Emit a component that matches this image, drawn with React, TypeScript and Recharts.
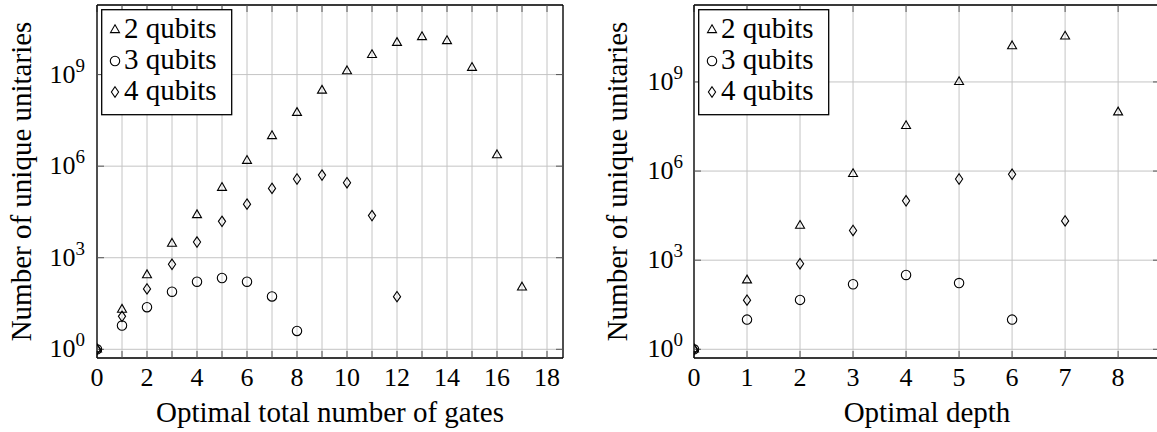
import React from 'react';
import { ScatterChart, Scatter, XAxis, YAxis, CartesianGrid, Label } from 'recharts';

const FONT = 'Liberation Serif';

// left panel: optimal total number of gates
const gateCounts = [0, 1, 2, 3, 4, 5, 6, 7, 8, 9, 10, 11, 12, 13, 14, 15, 16, 17];
const gates2q = [1, 20, 270, 2900, 25000, 196000, 1.5e6, 9.7e6, 5.6e7, 3e8, 1.3e9, 4.4e9, 1.1e10, 1.7e10, 1.26e10, 1.67e9, 2.3e6, 107];
const gates3q = [1, 6, 24, 77, 164, 217, 164, 54, 4];
const gates4q = [1, 12, 95, 610, 3270, 15600, 57000, 187000, 380000, 510000, 287000, 24000, 53];
const gateTicks = [0, 1, 2, 3, 4, 5, 6, 7, 8, 9, 10, 11, 12, 13, 14, 15, 16, 17, 18];

// right panel: optimal depth
const depths = [0, 1, 2, 3, 4, 5, 6, 7, 8];
const depth2q = [1, 210, 14500, 8e5, 3.3e7, 1e9, 1.6e10, 3.4e10, 9.5e7];
const depth3q = [1, 10, 46, 155, 318, 170, 10];
const depth4q = [1, 45, 760, 10000, 1e5, 5.4e5, 7.8e5, 21000];
const depthTicks = [0, 1, 2, 3, 4, 5, 6, 7, 8];

const yTicks = [1, 1e3, 1e6, 1e9];
const seriesNames = ['2 qubits', '3 qubits', '4 qubits'];

const toPoints = (xs: number[], ys: number[]) => ys.map((y, i) => ({ x: xs[i], y }));

const textStyle = { fontFamily: FONT };

const Triangle = ({ cx, cy }: any) => (
  <path
    d={`M${cx},${cy - 5.2}L${cx + 4.5},${cy + 2.6}L${cx - 4.5},${cy + 2.6}Z`}
    fill="none"
    stroke="#000"
    strokeWidth={1.1}
  />
);

const Circle = ({ cx, cy }: any) => (
  <circle cx={cx} cy={cy} r={4.7} fill="none" stroke="#000" strokeWidth={1.1} />
);

const Diamond = ({ cx, cy }: any) => (
  <path
    d={`M${cx},${cy - 5.2}L${cx + 3.6},${cy}L${cx},${cy + 5.2}L${cx - 3.6},${cy}Z`}
    fill="none"
    stroke="#000"
    strokeWidth={1.1}
  />
);

const shapes = [Triangle, Circle, Diamond];

const YTick = ({ x, y, payload }: any) => {
  const exp = Math.round(Math.log10(payload.value));
  return (
    <text x={x} y={y + 8} textAnchor="end" style={textStyle} fontSize={26} fill="#000">
      10
      <tspan dy={-11} fontSize={19}>
        {exp}
      </tspan>
    </text>
  );
};

const makeXTick = (every: number) => ({ x, y, payload }: any) =>
  payload.value % every === 0 ? (
    <text x={x} y={y} textAnchor="middle" style={textStyle} fontSize={26} fill="#000">
      {payload.value}
    </text>
  ) : (
    <g />
  );

const NoTick = () => <g />;

const LegendBox = ({ left }: { left: number }) => (
  <svg width={132} height={107} style={{ position: 'absolute', left, top: 9 }}>
    <rect x={0.7} y={0.7} width={130} height={105} fill="#fff" stroke="#000" strokeWidth={1.3} />
    {seriesNames.map((name, i) => {
      const Shape = shapes[i];
      const base = 29 + i * 31;
      return (
        <g key={name}>
          <Shape cx={14} cy={base - 8} />
          <text x={23} y={base} style={textStyle} fontSize={29} fill="#000">
            {name}
          </text>
        </g>
      );
    })}
  </svg>
);

interface PanelProps {
  series: { x: number; y: number }[][];
  xTicks: number[];
  xMax: number;
  labelEvery: number;
  xLabel: string;
  yDomain: [number, number];
  yAxisWidth: number;
  yLabelX: number;
  tickGap: number;
  width: number;
}

const Panel = ({ series, xTicks, xMax, labelEvery, xLabel, yDomain, yAxisWidth, yLabelX, tickGap, width }: PanelProps) => (
  <ScatterChart width={width} height={432} margin={{ top: 5, right: 17, bottom: 0, left: 0 }}>
    <CartesianGrid stroke="#c4c4c4" strokeWidth={1} xAxisId="b" yAxisId="l" />
    <XAxis
      xAxisId="b"
      dataKey="x"
      type="number"
      domain={[0, xMax]}
      ticks={xTicks}
      interval={0}
      allowDataOverflow
      height={74}
      stroke="#000"
      axisLine={{ stroke: '#000', strokeWidth: 1.3 }}
      tickLine={{ stroke: '#555', strokeWidth: 1 }}
      tickSize={-7}
      tickMargin={35}
      tick={makeXTick(labelEvery)}
    >
      <Label
        content={({ viewBox }: any) => (
          <text
            x={viewBox.x + viewBox.width / 2}
            y={viewBox.y + 64}
            textAnchor="middle"
            style={textStyle}
            fontSize={29}
            fill="#000"
          >
            {xLabel}
          </text>
        )}
      />
    </XAxis>
    <XAxis
      xAxisId="t"
      orientation="top"
      mirror
      dataKey="x"
      type="number"
      domain={[0, xMax]}
      ticks={xTicks}
      interval={0}
      allowDataOverflow
      stroke="#000"
      axisLine={{ stroke: '#000', strokeWidth: 1.3 }}
      tickLine={{ stroke: '#555', strokeWidth: 1 }}
      tickSize={7}
      tick={NoTick}
    />
    <YAxis
      yAxisId="l"
      dataKey="y"
      type="number"
      scale="log"
      domain={yDomain}
      ticks={yTicks}
      interval={0}
      allowDataOverflow
      width={yAxisWidth}
      stroke="#000"
      axisLine={{ stroke: '#000', strokeWidth: 1.3 }}
      tickLine={{ stroke: '#555', strokeWidth: 1 }}
      tickSize={-7}
      tickMargin={7 + tickGap}
      tick={YTick}
    >
      <Label
        content={({ viewBox }: any) => {
          const cy = viewBox.y + viewBox.height / 2;
          return (
            <text
              x={yLabelX}
              y={cy}
              transform={`rotate(-90, ${yLabelX}, ${cy})`}
              textAnchor="middle"
              style={textStyle}
              fontSize={29}
              fill="#000"
            >
              Number of unique unitaries
            </text>
          );
        }}
      />
    </YAxis>
    <YAxis
      yAxisId="r"
      orientation="right"
      mirror
      dataKey="y"
      type="number"
      scale="log"
      domain={yDomain}
      ticks={yTicks}
      interval={0}
      allowDataOverflow
      stroke="#000"
      axisLine={{ stroke: '#000', strokeWidth: 1.3 }}
      tickLine={{ stroke: '#555', strokeWidth: 1 }}
      tickSize={7}
      tick={NoTick}
    />
    {series.map((pts, i) => {
      const Shape = shapes[i];
      return (
        <Scatter
          key={seriesNames[i]}
          name={seriesNames[i]}
          data={pts}
          xAxisId="b"
          yAxisId="l"
          isAnimationActive={false}
          shape={(p: any) => <Shape cx={p.cx} cy={p.cy} />}
        />
      );
    })}
  </ScatterChart>
);

export default function App() {
  const gateSeries = [toPoints(gateCounts, gates2q), toPoints(gateCounts, gates3q), toPoints(gateCounts, gates4q)];
  const depthSeries = [toPoints(depths, depth2q), toPoints(depths, depth3q), toPoints(depths, depth4q)];

  return (
    <div
      style={{
        position: 'absolute',
        left: 0,
        top: 0,
        width: 1157,
        height: 432,
        overflow: 'hidden',
        background: '#fff',
        fontFamily: FONT,
      }}
    >
      <div style={{ position: 'absolute', left: 0, top: 0 }}>
        <Panel
          series={gateSeries}
          xTicks={gateTicks}
          xMax={18.64}
          labelEvery={2}
          xLabel="Optimal total number of gates"
          yDomain={[Math.pow(10, -0.285), Math.pow(10, 11.28)]}
          yAxisWidth={97}
          yLabelX={31}
          tickGap={12}
          width={580}
        />
      </div>
      <LegendBox left={101} />
      <div style={{ position: 'absolute', left: 580, top: 0 }}>
        <Panel
          series={depthSeries}
          xTicks={depthTicks}
          xMax={8.79}
          labelEvery={1}
          xLabel="Optimal depth"
          yDomain={[Math.pow(10, -0.293), Math.pow(10, 11.59)]}
          yAxisWidth={114}
          yLabelX={47}
          tickGap={11}
          width={597}
        />
      </div>
      <LegendBox left={698} />
    </div>
  );
}
